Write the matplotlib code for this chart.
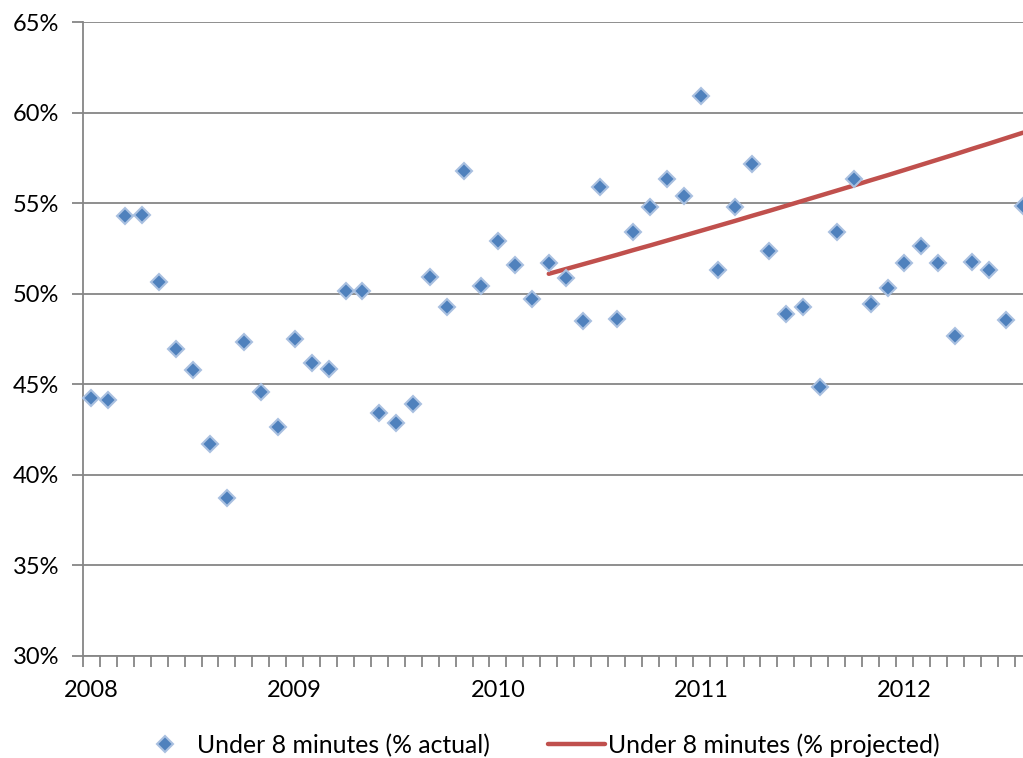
import matplotlib
matplotlib.use("Agg")
import matplotlib.pyplot as plt
from matplotlib.ticker import FixedLocator, FuncFormatter

# monthly share of calls answered under 8 minutes, Jan 2008 .. Aug 2012
actual = [44.22, 44.13, 54.30, 54.35, 50.65, 46.96, 45.81, 41.72, 38.73, 47.31, 44.56, 42.66,
          47.49, 46.18, 45.87, 50.17, 50.17, 43.39, 42.88, 43.91, 50.90, 49.28, 56.77, 50.41,
          52.90, 51.61, 49.70, 51.72, 50.87, 48.47, 55.87, 48.60, 53.40, 54.80, 56.33, 55.37,
          60.94, 51.33, 54.80, 57.18, 52.35, 48.90, 49.25, 44.86, 53.43, 56.33, 49.45, 50.32,
          51.72, 52.64, 51.68, 47.68, 51.77, 51.33, 48.57, 54.85]
# projection starts Apr 2010 (month index 27)
proj_start = 27
projected = [51.10, 51.36, 51.62, 51.88, 52.14, 52.41, 52.67, 52.94, 53.21, 53.48,
             53.75, 54.02, 54.30, 54.57, 54.85, 55.13, 55.41, 55.69, 55.97, 56.26,
             56.54, 56.83, 57.12, 57.41, 57.70, 58.00, 58.29, 58.59, 58.89]
years = ["2008", "2009", "2010", "2011", "2012"]
yticks = [30, 35, 40, 45, 50, 55, 60, 65]

plt.rcParams['font.family'] = ['Lato', 'DejaVu Sans']
fs = 17
grey = "#868686"

fig = plt.figure(figsize=(10.23, 7.58), dpi=100)
ax = fig.add_axes([83 / 1023, 1 - 656 / 758, (1023 - 83) / 1023, (656 - 22) / 758])

x_act = list(range(len(actual)))
x_proj = list(range(proj_start, proj_start + len(projected)))

ax.plot(x_proj, projected, color="#C0504D", lw=3.2, solid_capstyle="round",
        label="Under 8 minutes (% projected)", zorder=3)
ax.plot(x_act, actual, ls="none", marker="D", ms=8.5, mfc="#4F81BD", mec="#A9C0E0",
        mew=1.5, label="Under 8 minutes (% actual)", zorder=4, clip_on=False)

ax.set_xlim(-0.5, len(actual) - 1)
ax.set_ylim(30, 65)

ax.yaxis.set_major_locator(FixedLocator(yticks))
ax.yaxis.set_major_formatter(FuncFormatter(lambda v, p: "%d%%" % v))
ax.grid(axis="y", color=grey, lw=1.3)
ax.set_axisbelow(True)

ax.set_xticks([12 * i for i in range(len(years))])
ax.set_xticklabels(years)
ax.set_xticks([i - 0.5 for i in range(len(actual))], minor=True)
ax.tick_params(axis="x", which="major", length=0, pad=17, labelsize=fs)
ax.tick_params(axis="x", which="minor", length=8, width=1.3, color=grey)
ax.tick_params(axis="y", length=8, width=1.3, color=grey, pad=9, labelsize=fs)

for side in ["top", "right"]:
    ax.spines[side].set_visible(False)
for side in ["left", "bottom"]:
    ax.spines[side].set_color(grey)
    ax.spines[side].set_linewidth(1.3)

h, l = ax.get_legend_handles_labels()
fig.legend(h[::-1], l[::-1], ncol=2, loc="center", bbox_to_anchor=(0.526, 0.017),
           frameon=False, fontsize=17.8, handlelength=2.31, handletextpad=0.12,
           columnspacing=2.35, borderaxespad=0)

fig.savefig("out.png", dpi=100)
